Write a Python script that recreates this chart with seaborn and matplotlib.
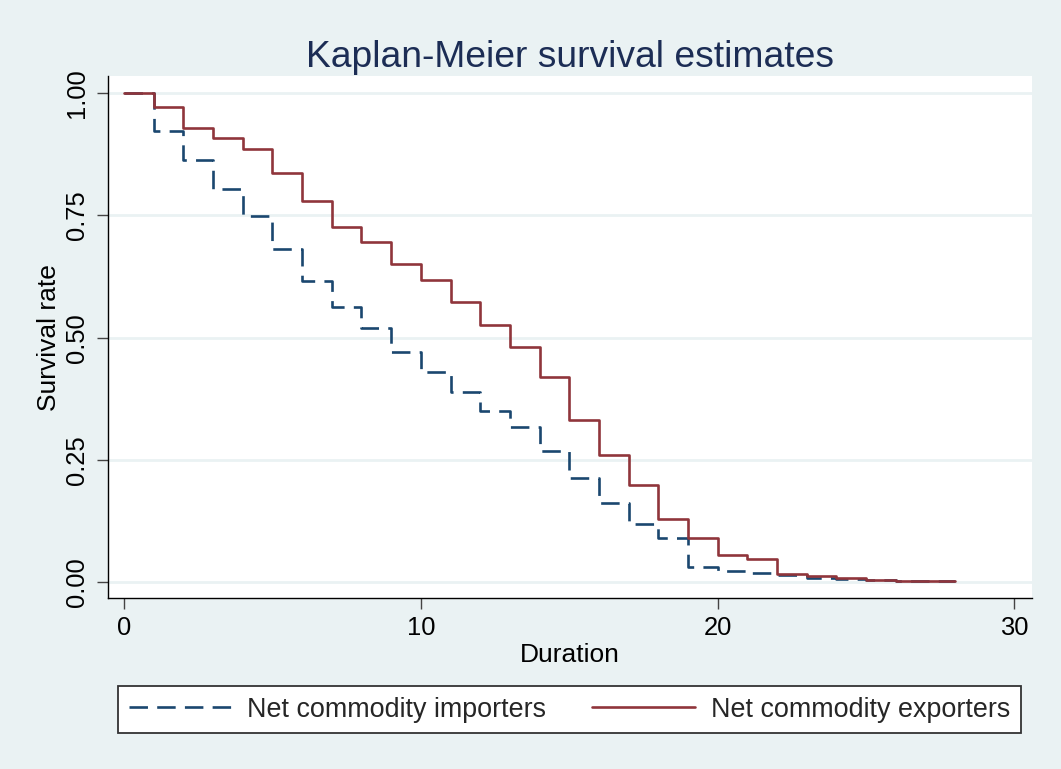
import numpy as np
import pandas as pd
import matplotlib
matplotlib.use("Agg")
import matplotlib.pyplot as plt
import seaborn as sns

# ---- data ----
duration = list(range(29))
importers = [1.000, 0.922, 0.863, 0.804, 0.749, 0.681, 0.615, 0.563, 0.520, 0.471,
             0.429, 0.388, 0.349, 0.317, 0.268, 0.213, 0.161, 0.119, 0.089, 0.031,
             0.022, 0.019, 0.014, 0.009, 0.006, 0.004, 0.002, 0.001, 0.001]
exporters = [1.000, 0.971, 0.930, 0.908, 0.885, 0.836, 0.779, 0.727, 0.695, 0.651,
             0.617, 0.573, 0.526, 0.481, 0.419, 0.332, 0.259, 0.199, 0.129, 0.090,
             0.055, 0.047, 0.017, 0.012, 0.009, 0.005, 0.003, 0.001, 0.001]
group_labels = ["Net commodity importers", "Net commodity exporters"]
x_ticks = [0, 10, 20, 30]
y_ticks = [0.00, 0.25, 0.50, 0.75, 1.00]
y_ticklabels = ["0.00", "0.25", "0.50", "0.75", "1.00"]

df = pd.DataFrame({
    "Duration": duration * 2,
    "Survival rate": importers + exporters,
    "group": [group_labels[0]] * len(duration) + [group_labels[1]] * len(duration),
})

BG = "#EAF2F3"
NAVY = "#1A476F"
MAROON = "#90353B"

sns.set_theme(style="white")
plt.rcParams["font.family"] = ["Liberation Sans", "DejaVu Sans"]

fig = plt.figure(figsize=(10.61, 7.69), dpi=100, facecolor=BG)
ax_left, ax_right, ax_top, ax_bottom = 107.5, 1031.7, 76.0, 598.3
ax = fig.add_axes([ax_left / 1061, 1 - ax_bottom / 769,
                   (ax_right - ax_left) / 1061, (ax_bottom - ax_top) / 769])
ax.set_facecolor("white")

sns.lineplot(data=df, x="Duration", y="Survival rate", hue="group", style="group",
             hue_order=group_labels, style_order=group_labels,
             palette=[NAVY, MAROON], dashes=[(7, 3.5), ""],
             drawstyle="steps-post", linewidth=1.9, ax=ax, legend=True)

ax.set_xlim(-0.556, 30.58)
ax.set_ylim(-0.0334, 1.0354)
ax.set_xticks(x_ticks)
ax.set_yticks(y_ticks)
ax.set_yticklabels(y_ticklabels, rotation=90, va="center")
ax.yaxis.grid(True, color=BG, linewidth=2.0)
ax.xaxis.grid(False)
ax.set_axisbelow(True)

for side in ["top", "right"]:
    ax.spines[side].set_visible(False)
for side in ["left", "bottom"]:
    ax.spines[side].set_color("black")
    ax.spines[side].set_linewidth(1.0)

ax.tick_params(axis="both", which="major", direction="out", length=8, width=1.0,
               color="#444444", labelsize=18.4, labelcolor="black", pad=5, left=True, bottom=True)
ax.set_xlabel("Duration", fontsize=19, color="black", labelpad=2)
ax.set_ylabel("Survival rate", fontsize=19, color="black", labelpad=3)

fig.text((ax_left + ax_right) / 2 / 1061, 1 - 66.7 / 769, "Kaplan-Meier survival estimates",
         ha="center", va="baseline", fontsize=26.8, color="#1C2D55")

# legend
handles, labels = ax.get_legend_handles_labels()
ax.get_legend().remove()
leg = fig.legend(handles, labels, loc="center", ncol=2,
                 bbox_to_anchor=((116 + 1023) / 2 / 1061, 1 - 709.6 / 769),
                 frameon=True, fancybox=False, edgecolor="#333333", facecolor="white",
                 fontsize=19.4, handlelength=3.8, handletextpad=0.6, borderaxespad=0,
                 borderpad=0.4, columnspacing=1.7)
leg.get_frame().set_linewidth(1.3)
leg.get_frame().set_alpha(1.0)
for line in leg.get_lines():
    line.set_linewidth(1.9)

fig.savefig("out.png", dpi=100, facecolor=BG)
